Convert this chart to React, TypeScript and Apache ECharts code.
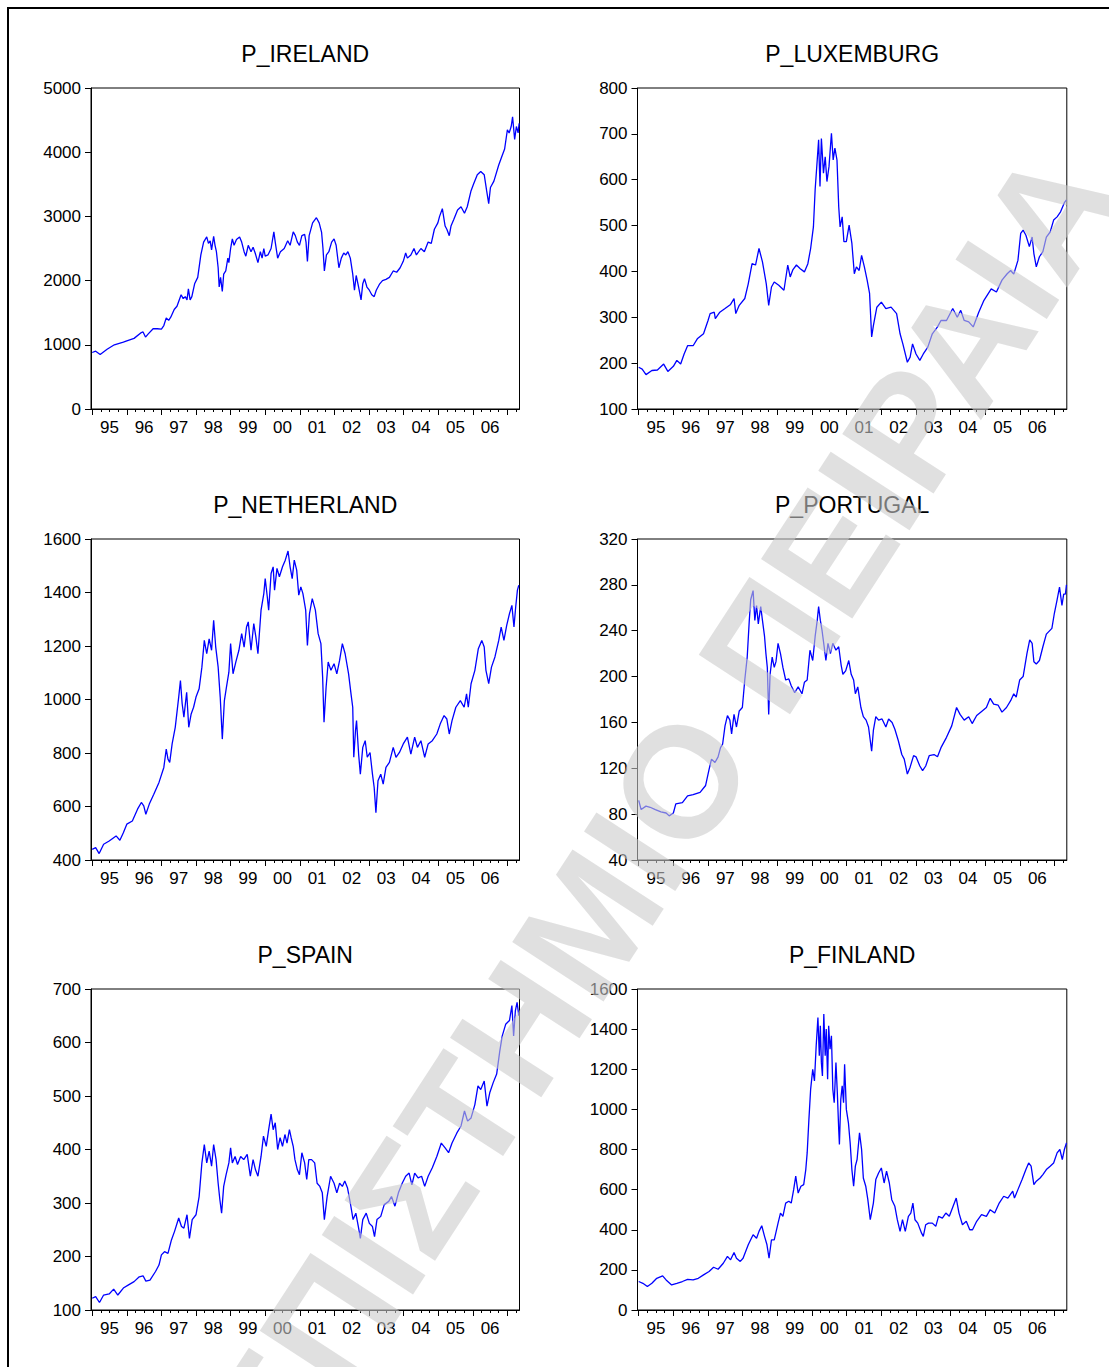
import React, { useEffect, useRef } from "react";
import * as echarts from "echarts";

// ---- daily closing levels, sampled at turning points (time in decimal years) ----
const ireland: [number, number][] = [
  [1995.0, 880], [1995.1, 900], [1995.23, 850], [1995.43, 930], [1995.64, 1000], [1995.9, 1040], [1996.0, 1060],
  [1996.21, 1100], [1996.42, 1190], [1996.47, 1200], [1996.54, 1120], [1996.62, 1170], [1996.76, 1250], [1996.88, 1250],
  [1997.0, 1245], [1997.07, 1300], [1997.14, 1420], [1997.21, 1380], [1997.27, 1430], [1997.37, 1550], [1997.45, 1600],
  [1997.57, 1780], [1997.63, 1720], [1997.69, 1750], [1997.74, 1700], [1997.78, 1870], [1997.83, 1700], [1997.88, 1750],
  [1997.96, 1950], [1998.05, 2050], [1998.14, 2400], [1998.22, 2600], [1998.31, 2680], [1998.36, 2580], [1998.41, 2620],
  [1998.45, 2480], [1998.51, 2690], [1998.55, 2550], [1998.59, 2450], [1998.64, 2200], [1998.67, 1900], [1998.71, 2050],
  [1998.76, 1830], [1998.8, 2100], [1998.86, 2150], [1998.92, 2350], [1998.95, 2280], [1999.0, 2500], [1999.05, 2650],
  [1999.1, 2550], [1999.17, 2640], [1999.26, 2680], [1999.32, 2600], [1999.39, 2450], [1999.44, 2380], [1999.51, 2550],
  [1999.59, 2450], [1999.65, 2520], [1999.71, 2430], [1999.79, 2280], [1999.86, 2450], [1999.91, 2350], [1999.96, 2500],
  [2000.0, 2380], [2000.08, 2400], [2000.17, 2500], [2000.25, 2760], [2000.29, 2600], [2000.36, 2350], [2000.44, 2450],
  [2000.55, 2500], [2000.65, 2620], [2000.72, 2550], [2000.81, 2760], [2000.87, 2700], [2000.93, 2600], [2000.99, 2550],
  [2001.06, 2700], [2001.14, 2720], [2001.18, 2600], [2001.22, 2300], [2001.27, 2700], [2001.37, 2900], [2001.48, 2980],
  [2001.56, 2900], [2001.63, 2750], [2001.67, 2500], [2001.71, 2150], [2001.77, 2400], [2001.84, 2450], [2001.92, 2600],
  [2001.99, 2650], [2002.05, 2550], [2002.13, 2200], [2002.2, 2350], [2002.27, 2430], [2002.33, 2400], [2002.39, 2450],
  [2002.46, 2350], [2002.53, 2100], [2002.58, 1850], [2002.63, 2080], [2002.7, 1900], [2002.77, 1700], [2002.82, 1950],
  [2002.87, 2030], [2002.94, 1900], [2003.01, 1850], [2003.08, 1780], [2003.15, 1750], [2003.21, 1850], [2003.31, 1950],
  [2003.39, 2000], [2003.49, 2020], [2003.59, 2050], [2003.7, 2150], [2003.8, 2130], [2003.9, 2200], [2003.99, 2300],
  [2004.06, 2430], [2004.11, 2350], [2004.21, 2400], [2004.3, 2500], [2004.37, 2400], [2004.5, 2500], [2004.6, 2450],
  [2004.71, 2600], [2004.8, 2580], [2004.89, 2800], [2004.99, 2900], [2005.04, 3000], [2005.12, 3120], [2005.2, 2850],
  [2005.25, 2800], [2005.32, 2700], [2005.37, 2850], [2005.45, 2950], [2005.56, 3100], [2005.66, 3150], [2005.76, 3050],
  [2005.84, 3150], [2005.95, 3400], [2006.02, 3500], [2006.13, 3650], [2006.23, 3700], [2006.33, 3650], [2006.4, 3400],
  [2006.46, 3200], [2006.51, 3450], [2006.61, 3550], [2006.75, 3800], [2006.85, 3950], [2006.92, 4050], [2007.0, 4350],
  [2007.05, 4300], [2007.11, 4400], [2007.15, 4550], [2007.21, 4200], [2007.26, 4400], [2007.31, 4300], [2007.34, 4450],
];

const luxemburg: [number, number][] = [
  [1995.0, 191], [1995.1, 187], [1995.21, 175], [1995.38, 184], [1995.54, 185], [1995.72, 198], [1995.84, 182],
  [1996.0, 193], [1996.1, 206], [1996.21, 198], [1996.31, 220], [1996.41, 238], [1996.57, 238], [1996.69, 253],
  [1996.87, 264], [1997.0, 293], [1997.06, 308], [1997.18, 311], [1997.21, 297], [1997.34, 311], [1997.49, 319],
  [1997.65, 328], [1997.75, 341], [1997.8, 308], [1997.9, 326], [1998.06, 341], [1998.16, 373], [1998.27, 417],
  [1998.37, 414], [1998.47, 450], [1998.57, 421], [1998.68, 373], [1998.75, 326], [1998.83, 366], [1998.91, 377],
  [1999.04, 370], [1999.19, 359], [1999.3, 414], [1999.37, 388], [1999.45, 404], [1999.55, 414], [1999.66, 406],
  [1999.78, 399], [1999.88, 417], [1999.96, 450], [2000.04, 497], [2000.09, 578], [2000.15, 643], [2000.19, 687],
  [2000.23, 585], [2000.27, 690], [2000.33, 614], [2000.38, 650], [2000.43, 596], [2000.49, 629], [2000.56, 701],
  [2000.61, 643], [2000.66, 669], [2000.72, 643], [2000.77, 541], [2000.81, 497], [2000.87, 519], [2000.92, 465],
  [2000.99, 465], [2001.07, 501], [2001.15, 461], [2001.22, 395], [2001.28, 410], [2001.36, 402], [2001.43, 435],
  [2001.51, 410], [2001.59, 381], [2001.66, 352], [2001.72, 257], [2001.77, 282], [2001.87, 322], [2002.0, 333],
  [2002.13, 319], [2002.28, 322], [2002.44, 308], [2002.54, 264], [2002.62, 242], [2002.75, 202], [2002.83, 213],
  [2002.9, 242], [2003.0, 220], [2003.11, 206], [2003.21, 220], [2003.34, 235], [2003.47, 264], [2003.62, 279],
  [2003.72, 293], [2003.88, 293], [2004.06, 319], [2004.19, 300], [2004.29, 315], [2004.39, 293], [2004.52, 290],
  [2004.65, 279], [2004.81, 311], [2004.96, 337], [2005.17, 362], [2005.32, 355], [2005.48, 381], [2005.63, 395],
  [2005.73, 402], [2005.82, 394], [2005.94, 424], [2006.02, 483], [2006.09, 490], [2006.17, 479], [2006.27, 454],
  [2006.35, 475], [2006.4, 439], [2006.47, 410], [2006.56, 432], [2006.66, 443], [2006.76, 475], [2006.87, 486],
  [2006.97, 512], [2007.07, 519], [2007.17, 530], [2007.28, 550], [2007.34, 556],
];

const netherland: [number, number][] = [
  [1995.0, 440], [1995.1, 446], [1995.2, 424], [1995.33, 459], [1995.49, 471], [1995.69, 490], [1995.8, 474],
  [1995.9, 502], [1996.0, 534], [1996.16, 546], [1996.31, 590], [1996.42, 615], [1996.49, 602], [1996.55, 571],
  [1996.65, 609], [1996.78, 646], [1996.93, 690], [1997.07, 746], [1997.14, 815], [1997.19, 777], [1997.24, 765],
  [1997.31, 834], [1997.4, 896], [1997.5, 1009], [1997.55, 1071], [1997.6, 984], [1997.65, 934], [1997.73, 1027],
  [1997.79, 896], [1997.86, 946], [1997.93, 971], [1998.0, 1009], [1998.09, 1040], [1998.17, 1121], [1998.24, 1221],
  [1998.31, 1171], [1998.38, 1227], [1998.45, 1184], [1998.51, 1296], [1998.57, 1196], [1998.64, 1121], [1998.7, 1009],
  [1998.76, 852], [1998.82, 996], [1998.88, 1046], [1998.95, 1102], [1999.0, 1209], [1999.07, 1096], [1999.15, 1140],
  [1999.24, 1184], [1999.32, 1246], [1999.39, 1196], [1999.46, 1271], [1999.51, 1290], [1999.59, 1184], [1999.67, 1284],
  [1999.73, 1234], [1999.79, 1171], [1999.88, 1334], [1999.96, 1396], [2000.0, 1452], [2000.06, 1384], [2000.1, 1334],
  [2000.17, 1471], [2000.23, 1496], [2000.27, 1409], [2000.34, 1490], [2000.41, 1459], [2000.5, 1496], [2000.58, 1521],
  [2000.66, 1555], [2000.72, 1496], [2000.78, 1452], [2000.84, 1521], [2000.91, 1484], [2000.97, 1390], [2001.03, 1421],
  [2001.09, 1396], [2001.17, 1334], [2001.22, 1202], [2001.28, 1321], [2001.36, 1377], [2001.45, 1334], [2001.53, 1246],
  [2001.61, 1209], [2001.66, 1084], [2001.7, 915], [2001.76, 1046], [2001.82, 1140], [2001.9, 1109], [2001.99, 1134],
  [2002.07, 1096], [2002.15, 1146], [2002.23, 1209], [2002.31, 1171], [2002.41, 1096], [2002.48, 1021], [2002.53, 971],
  [2002.56, 784], [2002.61, 884], [2002.64, 921], [2002.7, 796], [2002.75, 721], [2002.82, 821], [2002.89, 846],
  [2002.95, 784], [2003.03, 802], [2003.1, 721], [2003.15, 671], [2003.2, 577], [2003.26, 696], [2003.34, 721],
  [2003.41, 684], [2003.49, 746], [2003.59, 765], [2003.7, 821], [2003.78, 784], [2003.88, 802], [2003.99, 834],
  [2004.11, 859], [2004.21, 796], [2004.32, 859], [2004.4, 821], [2004.5, 846], [2004.61, 784], [2004.71, 834],
  [2004.83, 846], [2004.96, 871], [2005.06, 909], [2005.17, 940], [2005.25, 927], [2005.32, 871], [2005.4, 921],
  [2005.51, 971], [2005.64, 996], [2005.75, 971], [2005.82, 1021], [2005.87, 971], [2005.95, 1059], [2006.06, 1109],
  [2006.16, 1190], [2006.26, 1221], [2006.33, 1196], [2006.38, 1109], [2006.46, 1059], [2006.54, 1121], [2006.64, 1159],
  [2006.75, 1221], [2006.82, 1271], [2006.9, 1221], [2006.98, 1277], [2007.06, 1321], [2007.13, 1352], [2007.19, 1271],
  [2007.24, 1346], [2007.29, 1409], [2007.33, 1427],
];

const portugal: [number, number][] = [
  [1995.0, 92], [1995.07, 84], [1995.21, 87], [1995.33, 86], [1995.48, 84], [1995.64, 82], [1995.79, 81],
  [1995.88, 78.5], [1996.0, 81], [1996.07, 89], [1996.26, 90], [1996.41, 96], [1996.57, 97], [1996.77, 99],
  [1996.93, 105], [1997.03, 119], [1997.1, 128], [1997.2, 125], [1997.29, 130], [1997.36, 138], [1997.42, 141],
  [1997.49, 157], [1997.56, 166], [1997.63, 162], [1997.68, 150], [1997.75, 167], [1997.82, 156], [1997.9, 170],
  [1997.99, 173], [1998.06, 197], [1998.13, 217], [1998.19, 249], [1998.23, 267], [1998.3, 275], [1998.35, 249],
  [1998.4, 262], [1998.45, 246], [1998.52, 261], [1998.57, 249], [1998.63, 235], [1998.67, 220], [1998.71, 208],
  [1998.75, 167], [1998.79, 202], [1998.85, 217], [1998.91, 208], [1998.96, 213], [1999.02, 229], [1999.09, 220],
  [1999.16, 208], [1999.24, 197], [1999.33, 198], [1999.4, 192], [1999.5, 186], [1999.6, 191], [1999.71, 185],
  [1999.78, 195], [1999.86, 197], [1999.94, 223], [2000.02, 214], [2000.09, 235], [2000.15, 249], [2000.19, 261],
  [2000.24, 249], [2000.29, 240], [2000.35, 226], [2000.4, 214], [2000.46, 229], [2000.53, 220], [2000.6, 229],
  [2000.69, 223], [2000.77, 226], [2000.84, 210], [2000.89, 202], [2000.97, 205], [2001.06, 214], [2001.13, 202],
  [2001.2, 197], [2001.25, 185], [2001.32, 191], [2001.41, 173], [2001.48, 165], [2001.56, 162], [2001.63, 156],
  [2001.72, 135], [2001.77, 153], [2001.84, 165], [2001.92, 162], [2002.02, 163], [2002.13, 156], [2002.21, 163],
  [2002.31, 160], [2002.39, 154], [2002.49, 144], [2002.59, 132], [2002.66, 128], [2002.75, 115], [2002.83, 121],
  [2002.93, 131], [2003.0, 130], [2003.11, 122], [2003.19, 118], [2003.28, 122], [2003.38, 131], [2003.52, 132],
  [2003.62, 130], [2003.72, 138], [2003.88, 147], [2004.03, 157], [2004.17, 173], [2004.27, 167], [2004.39, 162],
  [2004.52, 165], [2004.62, 159], [2004.75, 166], [2004.91, 170], [2005.03, 173], [2005.14, 181], [2005.24, 176],
  [2005.37, 175], [2005.48, 169], [2005.61, 173], [2005.73, 179], [2005.82, 185], [2005.89, 182], [2005.99, 197],
  [2006.09, 200], [2006.2, 220], [2006.28, 232], [2006.35, 229], [2006.4, 213], [2006.47, 211], [2006.56, 214],
  [2006.66, 226], [2006.76, 237], [2006.92, 242], [2006.99, 255], [2007.07, 267], [2007.14, 278], [2007.21, 262],
  [2007.26, 272], [2007.31, 272], [2007.34, 280],
];

const spain: [number, number][] = [
  [1995.0, 122], [1995.1, 125], [1995.21, 114], [1995.33, 128], [1995.49, 130], [1995.62, 139], [1995.74, 128],
  [1995.9, 141], [1996.05, 147], [1996.21, 153], [1996.36, 162], [1996.47, 164], [1996.55, 154], [1996.67, 156],
  [1996.83, 172], [1996.93, 184], [1997.0, 203], [1997.09, 209], [1997.19, 206], [1997.29, 231], [1997.38, 247],
  [1997.5, 272], [1997.58, 256], [1997.65, 253], [1997.74, 278], [1997.81, 234], [1997.89, 269], [1998.0, 278],
  [1998.09, 312], [1998.17, 375], [1998.24, 409], [1998.31, 375], [1998.38, 397], [1998.45, 369], [1998.51, 409],
  [1998.58, 381], [1998.64, 337], [1998.69, 306], [1998.74, 281], [1998.8, 331], [1998.87, 353], [1998.95, 375],
  [1999.0, 403], [1999.05, 375], [1999.13, 387], [1999.2, 372], [1999.29, 387], [1999.38, 381], [1999.48, 391],
  [1999.57, 350], [1999.65, 381], [1999.72, 362], [1999.79, 350], [1999.88, 387], [1999.95, 425], [2000.03, 406],
  [2000.1, 437], [2000.17, 466], [2000.23, 437], [2000.29, 450], [2000.36, 400], [2000.43, 422], [2000.5, 406],
  [2000.57, 428], [2000.63, 412], [2000.7, 437], [2000.75, 422], [2000.81, 406], [2000.86, 381], [2000.93, 362],
  [2000.99, 353], [2001.06, 394], [2001.14, 375], [2001.2, 344], [2001.26, 381], [2001.34, 381], [2001.43, 375],
  [2001.5, 337], [2001.58, 331], [2001.65, 319], [2001.71, 269], [2001.79, 312], [2001.89, 350], [2001.99, 337],
  [2002.07, 319], [2002.15, 337], [2002.23, 331], [2002.3, 341], [2002.38, 328], [2002.46, 300], [2002.54, 269],
  [2002.62, 281], [2002.7, 253], [2002.75, 234], [2002.82, 269], [2002.92, 281], [2003.01, 262], [2003.1, 256],
  [2003.16, 237], [2003.23, 269], [2003.34, 275], [2003.44, 297], [2003.57, 303], [2003.65, 312], [2003.75, 294],
  [2003.85, 319], [2003.96, 337], [2004.06, 350], [2004.16, 356], [2004.24, 334], [2004.32, 356], [2004.42, 347],
  [2004.52, 350], [2004.61, 331], [2004.71, 350], [2004.83, 366], [2004.96, 387], [2005.09, 412], [2005.2, 403],
  [2005.3, 394], [2005.4, 412], [2005.54, 431], [2005.66, 444], [2005.76, 472], [2005.85, 453], [2005.95, 459],
  [2006.06, 484], [2006.15, 519], [2006.23, 512], [2006.33, 528], [2006.41, 481], [2006.49, 506], [2006.59, 525],
  [2006.69, 541], [2006.78, 584], [2006.85, 612], [2006.95, 634], [2007.06, 641], [2007.13, 669], [2007.18, 612],
  [2007.23, 659], [2007.28, 675], [2007.33, 650],
];

const finland: [number, number][] = [
  [1995.0, 142], [1995.12, 133], [1995.25, 117], [1995.38, 133], [1995.52, 158], [1995.69, 170], [1995.79, 150],
  [1995.95, 125], [1996.1, 133], [1996.26, 142], [1996.41, 153], [1996.57, 150], [1996.72, 158], [1996.87, 175],
  [1997.03, 192], [1997.16, 213], [1997.29, 203], [1997.44, 233], [1997.56, 267], [1997.65, 250], [1997.75, 287],
  [1997.82, 258], [1997.93, 242], [1998.01, 258], [1998.16, 325], [1998.3, 375], [1998.4, 358], [1998.47, 392],
  [1998.55, 420], [1998.63, 367], [1998.7, 325], [1998.76, 258], [1998.83, 350], [1998.91, 350], [1999.02, 433],
  [1999.09, 483], [1999.16, 467], [1999.24, 533], [1999.33, 542], [1999.4, 533], [1999.47, 600], [1999.53, 667],
  [1999.6, 583], [1999.68, 617], [1999.76, 625], [1999.82, 700], [1999.86, 783], [1999.91, 950], [1999.96, 1100],
  [2000.02, 1200], [2000.07, 1142], [2000.12, 1317], [2000.17, 1458], [2000.21, 1267], [2000.24, 1417], [2000.27, 1233],
  [2000.3, 1167], [2000.34, 1475], [2000.38, 1267], [2000.41, 1400], [2000.45, 1150], [2000.48, 1417], [2000.52, 1300],
  [2000.56, 1367], [2000.6, 1100], [2000.64, 1033], [2000.69, 1233], [2000.73, 1083], [2000.77, 900], [2000.79, 825],
  [2000.83, 1050], [2000.87, 1117], [2000.91, 1033], [2000.94, 1225], [2000.99, 1000], [2001.05, 933], [2001.1, 833],
  [2001.15, 700], [2001.2, 617], [2001.25, 717], [2001.3, 750], [2001.37, 883], [2001.43, 800], [2001.48, 658],
  [2001.55, 617], [2001.61, 550], [2001.68, 450], [2001.77, 533], [2001.84, 650], [2001.92, 683], [2002.0, 708],
  [2002.08, 633], [2002.15, 692], [2002.23, 633], [2002.3, 550], [2002.39, 517], [2002.46, 450], [2002.54, 392],
  [2002.61, 450], [2002.69, 392], [2002.78, 467], [2002.85, 483], [2002.91, 533], [2002.97, 450], [2003.05, 433],
  [2003.16, 383], [2003.21, 367], [2003.28, 425], [2003.36, 433], [2003.47, 433], [2003.57, 417], [2003.65, 467],
  [2003.76, 458], [2003.86, 483], [2003.96, 467], [2004.07, 517], [2004.16, 558], [2004.24, 483], [2004.34, 425],
  [2004.45, 442], [2004.55, 400], [2004.63, 400], [2004.75, 442], [2004.89, 475], [2005.03, 467], [2005.14, 500],
  [2005.27, 483], [2005.4, 533], [2005.53, 567], [2005.65, 558], [2005.79, 592], [2005.84, 558], [2005.94, 600],
  [2006.06, 650], [2006.17, 700], [2006.25, 733], [2006.32, 717], [2006.4, 625], [2006.47, 642], [2006.58, 658],
  [2006.66, 675], [2006.76, 700], [2006.87, 717], [2006.97, 733], [2007.07, 783], [2007.15, 800], [2007.22, 750],
  [2007.28, 800], [2007.34, 833],
];

// ---- axis scales ----
const seriesNames = ["P_IRELAND", "P_LUXEMBURG", "P_NETHERLAND", "P_PORTUGAL", "P_SPAIN", "P_FINLAND"];
const seriesData = [ireland, luxemburg, netherland, portugal, spain, finland];
// [min, max, interval] of each value axis
const valueScales: [number, number, number][] = [
  [0, 5000, 1000],
  [100, 800, 100],
  [400, 1600, 200],
  [40, 320, 40],
  [100, 700, 100],
  [0, 1600, 200],
];
const yearLabels = ["95", "96", "97", "98", "99", "00", "01", "02", "03", "04", "05", "06"];
const firstYear = 1995;
const lastYearTick = 2007;
const timeMin = 1994.965;
const timeMax = 2007.35;

const watermarkText = "ΠΑΝΕΠΙΣΤΗΜΙΟ ΠΕΙΡΑΙΑ";

// ---- layout ----
const FONT = "'Liberation Sans', Arial, Helvetica, sans-serif";
const colLeft = [91, 637.5];
const colWidth = [428.5, 429.3];
const rowTop = [88, 539, 989];
const plotHeight = 321;

const yearStarts: number[] = [];
for (let y = firstYear; y <= lastYearTick; y++) yearStarts.push(y);
const quarterTicks: number[] = [];
for (let y = firstYear; y <= lastYearTick; y++) {
  [0.25, 0.5, 0.75].forEach((q) => {
    if (y + q < timeMax) quarterTicks.push(y + q);
  });
}
const labelPositions = yearLabels.map((_, i) => firstYear + i + 0.5);

function buildOption(): echarts.EChartsCoreOption {
  const grid: any[] = [];
  const xAxis: any[] = [];
  const yAxis: any[] = [];
  const series: any[] = [];
  const graphic: any[] = [];

  seriesNames.forEach((name, i) => {
    const col = i % 2;
    const row = Math.floor(i / 2);
    const left = colLeft[col];
    const top = rowTop[row];
    const width = colWidth[col];

    grid.push({
      left,
      top,
      width,
      height: plotHeight,
      show: true,
      borderColor: "#000",
      borderWidth: 1,
      backgroundColor: "transparent",
    });

    // years: long ticks at January, labels centred on each year
    xAxis.push({
      type: "value",
      gridIndex: i,
      min: timeMin,
      max: timeMax,
      position: "bottom",
      axisLine: { show: true, onZero: false, lineStyle: { color: "#000", width: 1 } },
      axisTick: { show: true, inside: false, length: 6, customValues: yearStarts, lineStyle: { color: "#000", width: 1 } },
      axisLabel: {
        show: true,
        customValues: labelPositions,
        formatter: (v: number) => yearLabels[Math.round(v - firstYear - 0.5)] ?? "",
        fontSize: 17,
        fontFamily: FONT,
        color: "#000",
        margin: 10,
      },
      splitLine: { show: false },
    });
    // quarters: short ticks
    xAxis.push({
      type: "value",
      gridIndex: i,
      min: timeMin,
      max: timeMax,
      position: "bottom",
      axisLine: { show: false, onZero: false },
      axisTick: { show: true, inside: false, length: 3, customValues: quarterTicks, lineStyle: { color: "#000", width: 1 } },
      axisLabel: { show: false },
      splitLine: { show: false },
    });

    const [mn, mx, step] = valueScales[i];
    yAxis.push({
      type: "value",
      gridIndex: i,
      min: mn,
      max: mx,
      interval: step,
      axisLine: { show: true, onZero: false, lineStyle: { color: "#000", width: 1 } },
      axisTick: { show: true, inside: false, length: 6, lineStyle: { color: "#000", width: 1 } },
      axisLabel: {
        fontSize: 17,
        fontFamily: FONT,
        color: "#000",
        margin: 10,
        formatter: (v: number) => String(v),
      },
      splitLine: { show: false },
    });

    series.push({
      type: "line",
      name,
      xAxisIndex: 2 * i,
      yAxisIndex: i,
      data: seriesData[i],
      symbol: "none",
      showSymbol: false,
      silent: true,
      lineStyle: { color: "#0000ff", width: 1.3 },
      itemStyle: { color: "#0000ff" },
    });

    graphic.push({
      type: "text",
      x: left + width / 2,
      y: top - 34.5,
      silent: true,
      z: 10,
      style: {
        text: name,
        fontSize: 23,
        fontFamily: FONT,
        fill: "#000",
        align: "center",
        verticalAlign: "middle",
        textAlign: "center",
        textVerticalAlign: "middle",
      },
    });
  });

  // page frame
  graphic.push({
    type: "rect",
    silent: true,
    z: -10,
    shape: { x: 8, y: 8, width: 1400, height: 1600 },
    style: { fill: "none", stroke: "#000", lineWidth: 2 },
  });

  // diagonal watermark laid over the plots
  graphic.push({
    type: "text",
    x: 568,
    y: 955,
    rotation: (57 * Math.PI) / 180,
    silent: true,
    z: 100,
    style: {
      text: watermarkText,
      fontSize: 158,
      fontWeight: "bold",
      fontFamily: FONT,
      fill: "rgba(202,202,202,0.59)",
      align: "center",
      verticalAlign: "middle",
      textAlign: "center",
      textVerticalAlign: "middle",
    },
  });

  return {
    animation: false,
    backgroundColor: "#fff",
    grid,
    xAxis,
    yAxis,
    series,
    graphic,
  };
}

export default function App() {
  const ref = useRef<HTMLDivElement>(null);
  useEffect(() => {
    if (!ref.current) return;
    const chart = echarts.init(ref.current, undefined, { renderer: "svg" });
    chart.setOption(buildOption());
    return () => chart.dispose();
  }, []);
  return (
    <div
      ref={ref}
      style={{ position: "absolute", left: 0, top: 0, width: 1109, height: 1367, background: "#fff" }}
    />
  );
}
